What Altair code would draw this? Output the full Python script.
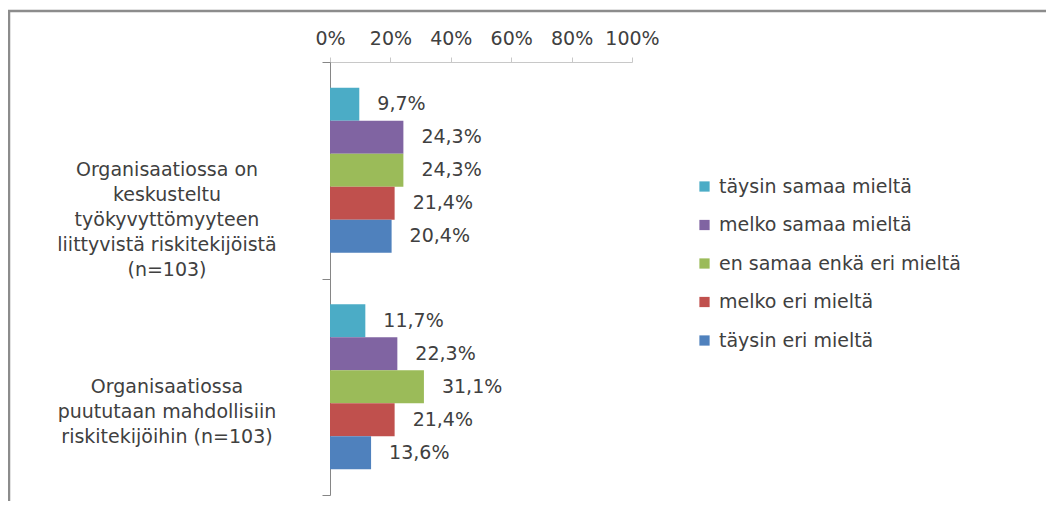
import altair as alt
import pandas as pd

categories = [
    "Organisaatiossa on\nkeskusteltu\ntyökyvyttömyyteen\nliittyvistä riskitekijöistä\n(n=103)",
    "Organisaatiossa\npuututaan mahdollisiin\nriskitekijöihin (n=103)",
]
series = [
    "täysin samaa mieltä",
    "melko samaa mieltä",
    "en samaa enkä eri mieltä",
    "melko eri mieltä",
    "täysin eri mieltä",
]
colors = ["#4BACC6", "#8064A2", "#9BBB59", "#C0504D", "#4F81BD"]
values_cat1 = [9.7, 24.3, 24.3, 21.4, 20.4]
values_cat2 = [11.7, 22.3, 31.1, 21.4, 13.6]
x_ticks = [0, 20, 40, 60, 80, 100]

rows = []
for cat, vals in zip(categories, [values_cat1, values_cat2]):
    for s, v in zip(series, vals):
        rows.append({"cat": cat, "series": s, "value": v,
                     "label": f"{v:.1f}".replace(".", ",") + "%"})
df = pd.DataFrame(rows)

FONT = "DejaVu Sans"
TXT = "#404040"
FS = 19

y_enc = alt.Y("cat:N", sort=categories,
              scale=alt.Scale(paddingInner=0, paddingOuter=0),
              axis=alt.Axis(labels=False, title=None, tickBand="extent",
                            tickSize=8, domainColor="#868686",
                            tickColor="#868686"))
yoff = alt.YOffset("series:N", sort=series,
                   scale=alt.Scale(paddingInner=0, paddingOuter=0.78))

base = alt.Chart(df)

frame = alt.Chart(pd.DataFrame({"a": [0]})).mark_rect(
    fill=None, stroke="#8c8c8c", strokeWidth=2.5
).encode(x=alt.value(-321), x2=alt.value(900), y=alt.value(-51), y2=alt.value(600))

bars = base.mark_bar(size=33).encode(
    x=alt.X("value:Q", scale=alt.Scale(domain=[0, 100]),
            axis=alt.Axis(orient="top", values=x_ticks, labelExpr="datum.value + '%'",
                          grid=False, title=None, domainColor="#c8c8c8",
                          tickColor="#c8c8c8", tickSize=5, labelPadding=9,
                          labelOverlap=False, labelFlush=False,
                          labelFontSize=FS, labelColor=TXT, labelFont=FONT)),
    y=y_enc,
    yOffset=yoff,
    color=alt.Color("series:N", sort=series,
                    scale=alt.Scale(domain=series, range=colors),
                    legend=alt.Legend(title=None, orient="none", legendX=365,
                                      legendY=115, symbolType="square",
                                      symbolSize=105, symbolStrokeWidth=0,
                                      labelFontSize=FS, labelFont=FONT,
                                      labelColor=TXT, labelOffset=5,
                                      labelLimit=500,
                                      rowPadding=18.5, padding=0)),
)

vlabels = base.mark_text(align="left", baseline="middle", dx=18, fontSize=FS,
                         font=FONT, color=TXT).encode(
    x="value:Q", y=alt.Y("cat:N", sort=categories), yOffset=yoff, text="label:N")

catlabels = alt.Chart(pd.DataFrame({"cat": categories})).mark_text(
    align="center", baseline="middle", lineBreak="\n", fontSize=FS, font=FONT,
    color=TXT, lineHeight=25).encode(
    x=alt.value(-163), y=alt.Y("cat:N", sort=categories), text="cat:N")

chart = alt.layer(frame, bars, vlabels, catlabels).properties(
    width=302, height=433,
    background="white",
    autosize=alt.AutoSizeParams(type="none"),
    padding={"left": 322, "top": 54, "right": 414, "bottom": 6},
).configure_view(stroke=None)

chart.save("out.html", embed_options={"renderer": "svg", "actions": False})
